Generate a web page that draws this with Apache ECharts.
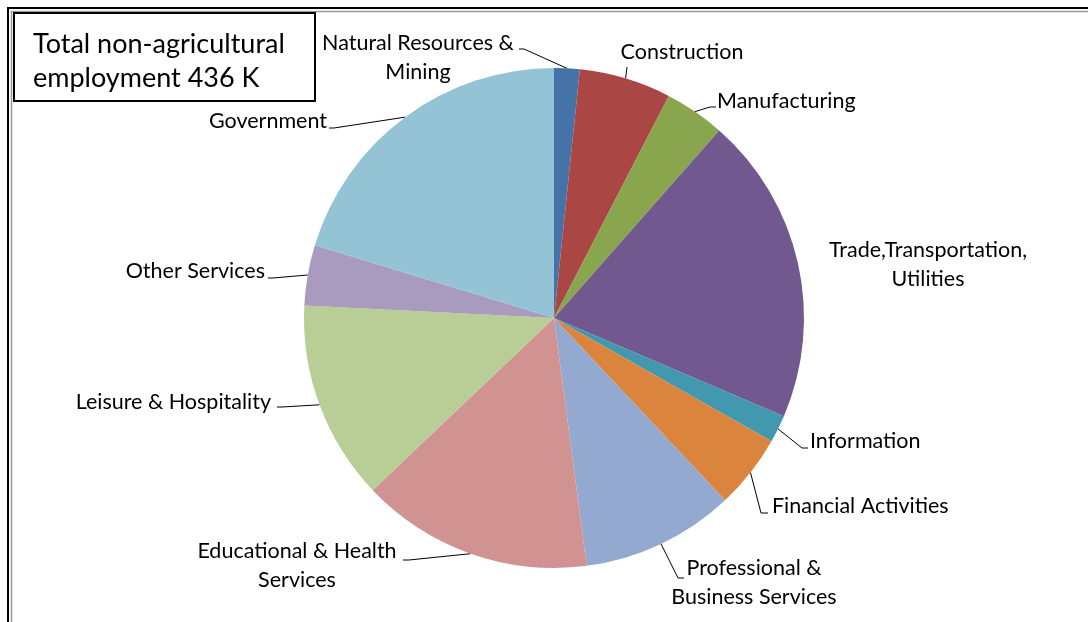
<!DOCTYPE html>
<html>
<head>
<meta charset="utf-8">
<script src="https://cdn.jsdelivr.net/npm/echarts@6/dist/echarts.min.js"></script>
<style>html,body{margin:0;padding:0;background:#fff}#c{width:1088px;height:622px}</style>
</head>
<body>
<div id="c"></div>
<script>
// Data (thousands of jobs, total 436 K)
var categories = [
  "Natural Resources &\nMining",
  "Construction",
  "Manufacturing",
  "Trade,Transportation,\nUtilities",
  "Information",
  "Financial Activities",
  "Professional &\nBusiness Services",
  "Educational & Health\nServices",
  "Leisure & Hospitality",
  "Other Services",
  "Government"
];
var values = [7.2, 25.9, 17.0, 86.9, 7.8, 20.9, 43.2, 65.4, 56.2, 17.0, 88.5];
var colors = ["#4572A7","#AA4643","#89A54E","#71588F","#4198AF","#DB843D","#93A9CF","#D19392","#B9CD96","#A99BBD","#93C3D5"];
var titleLines = ["Total non-agricultural", "employment 436 K"];

// Label placement (layout only)
var labelPlace = [
  {x:418, y:58,  align:'center', line:[[524,49],[519,49]]},
  {x:682, y:52,  align:'center', line:[[627,67],[627,67]]},
  {x:717, y:101, align:'left',   line:[[710,107],[716,107]]},
  {x:928, y:265, align:'center', line:null},
  {x:810, y:441, align:'left',   line:[[802,448],[808,448]]},
  {x:772, y:506, align:'left',   line:[[761,513],[768,513]]},
  {x:754, y:583, align:'center', line:[[678,578],[684,578]]},
  {x:297, y:566, align:'center', line:[[409,560],[403,560]]},
  {x:271, y:402, align:'right',  line:[[282,407],[277,407]]},
  {x:265, y:271, align:'right',  line:[[273,278],[268,278]]},
  {x:327, y:121, align:'right',  line:[[334,128],[329,128]]}
];

var FONT = 'Lato, "Open Sans", sans-serif';
var data = categories.map(function(n, i){
  var d = {name:n, value:values[i], itemStyle:{color:colors[i]}};
  if (!labelPlace[i].line) d.labelLine = {show:false};
  return d;
});

var chart = echarts.init(document.getElementById('c'), null, {renderer:'canvas'});
chart.setOption({
  animation:false,
  backgroundColor:'#fff',
  graphic:[
    {type:'rect', shape:{x:8, y:8, width:1200, height:800}, style:{fill:'none', stroke:'#000', lineWidth:2}, silent:true},
    {type:'rect', shape:{x:11.5, y:11.5, width:1200, height:800}, style:{fill:'none', stroke:'#999', lineWidth:1.5}, silent:true},
    {type:'rect', shape:{x:14, y:13, width:301, height:88}, style:{fill:'#fff', stroke:'#000', lineWidth:2}, silent:true},
    {type:'text', left:33, top:27, style:{text:titleLines.join('\n'), font:'27px ' + FONT, fill:'#000', lineHeight:34}, silent:true}
  ],
  series:[{
    type:'pie',
    center:[554,318],
    radius:250,
    startAngle:90,
    clockwise:true,
    avoidLabelOverlap:false,
    data:data,
    itemStyle:{borderWidth:0},
    label:{
      show:true, position:'outside', color:'#000',
      fontFamily:FONT, fontSize:21.5, lineHeight:29,
      formatter:'{b}'
    },
    labelLine:{show:true, length:15, length2:5, smooth:false, lineStyle:{color:'#000', width:1}},
    labelLayout:function(p){
      var c = labelPlace[p.dataIndex];
      var r = {x:c.x, y:c.y, align:c.align, verticalAlign:'middle'};
      if (c.line && p.labelLinePoints) {
        r.labelLinePoints = [p.labelLinePoints[0], c.line[0], c.line[1]];
      }
      return r;
    }
  }]
});
</script>
</body>
</html>
